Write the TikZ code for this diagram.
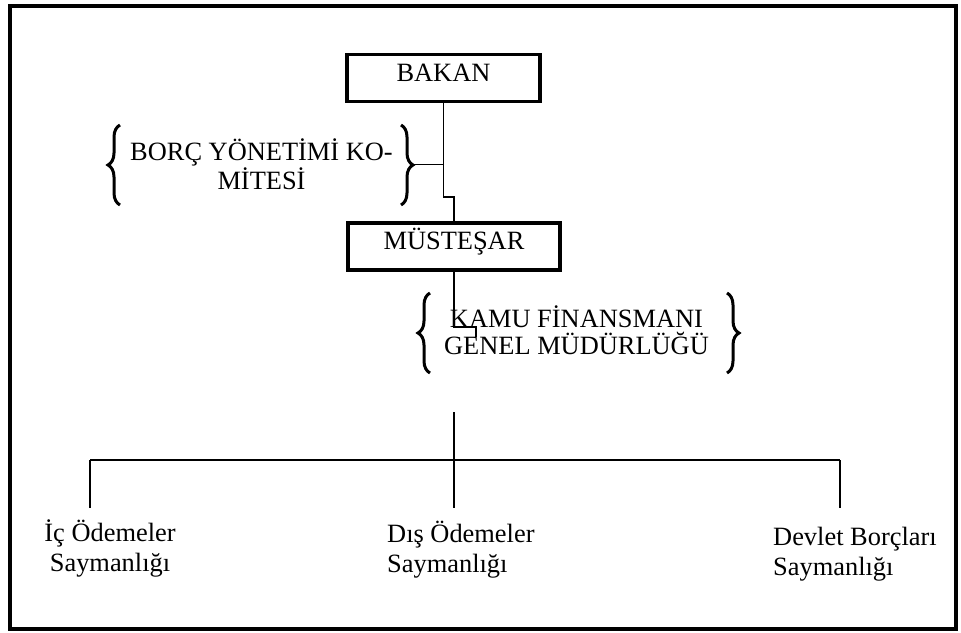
\documentclass[tikz,border=0pt]{standalone}
\usepackage{fontspec}
\setmainfont{Liberation Serif}
\usetikzlibrary{decorations.pathreplacing}
\begin{document}
\begin{tikzpicture}[x=1pt,y=-1pt,
  txt/.style={inner sep=0pt,font=\fontsize{26.4}{27}\selectfont},
  bottxt/.style={inner sep=0pt,font=\fontsize{26.4}{29.5}\selectfont},
  boxnode/.style={draw,line width=3.5pt,inner sep=0pt,text height=18pt,text depth=12pt,font=\fontsize{26.4}{27}\selectfont},
  conn/.style={line width=1.6pt},
  bar/.style={line width=2.2pt},
  bracestyle/.style={line width=3pt,decorate,decoration={brace,amplitude=12pt}}]
\useasboundingbox (0,0) rectangle (961,632);
\draw[line width=4pt] (9.5,5.5) rectangle (956,629);
% boxes
\node[boxnode,minimum width=193pt,minimum height=47pt] (bakan) at (443.5,78) {BAKAN};
\node[boxnode,minimum width=212pt,minimum height=47pt] (mus) at (454,246.5) {MÜSTEŞAR};
% braced texts
\node[txt,align=center,anchor=base] (borc) at (261.5,189) {BORÇ YÖNETİMİ KO-\\MİTESİ};
\node[txt,align=center,anchor=base] (kamu) at (576.5,354) {KAMU FİNANSMANI\\GENEL MÜDÜRLÜĞÜ};
% braces
\draw[bracestyle] (120,205) -- (120,125);
\draw[bracestyle] (401,125) -- (401,205);
\draw[bracestyle] (430,373) -- (430,293);
\draw[bracestyle] (727,293) -- (727,373);
\coordinate (bortip) at (413,164.5);
% connectors
\coordinate (s1) at (454,197);
\draw[conn] (bakan.south) |- (s1) -- (mus.north);
\draw[conn] (bortip) -- (bortip -| bakan.south);
\coordinate (s2) at (476,327);
\coordinate (kend) at (476,337);
\draw[conn] (mus.south) |- (s2) -- (kend);
% bottom texts
\node[bottxt,align=center,anchor=base] (ic) at (110,571) {İç Ödemeler\\Saymanlığı};
\node[bottxt,align=left,anchor=base west] (dis) at (387,572) {Dış Ödemeler\\Saymanlığı};
\node[bottxt,align=left,anchor=base west] (dev) at (773,575) {Devlet Borçları\\Saymanlığı};
% tree
\coordinate (c0) at (454,412);
\coordinate (hm) at (454,460);
\coordinate (cl) at (90,508);
\coordinate (cm) at (454,508);
\coordinate (cr) at (840,508);
\draw[conn] (c0) -- (cm);
\draw[bar] (cl |- hm) -- (cr |- hm);
\draw[conn] (cl |- hm) -- (cl);
\draw[conn] (cr |- hm) -- (cr);
\end{tikzpicture}
\end{document}
